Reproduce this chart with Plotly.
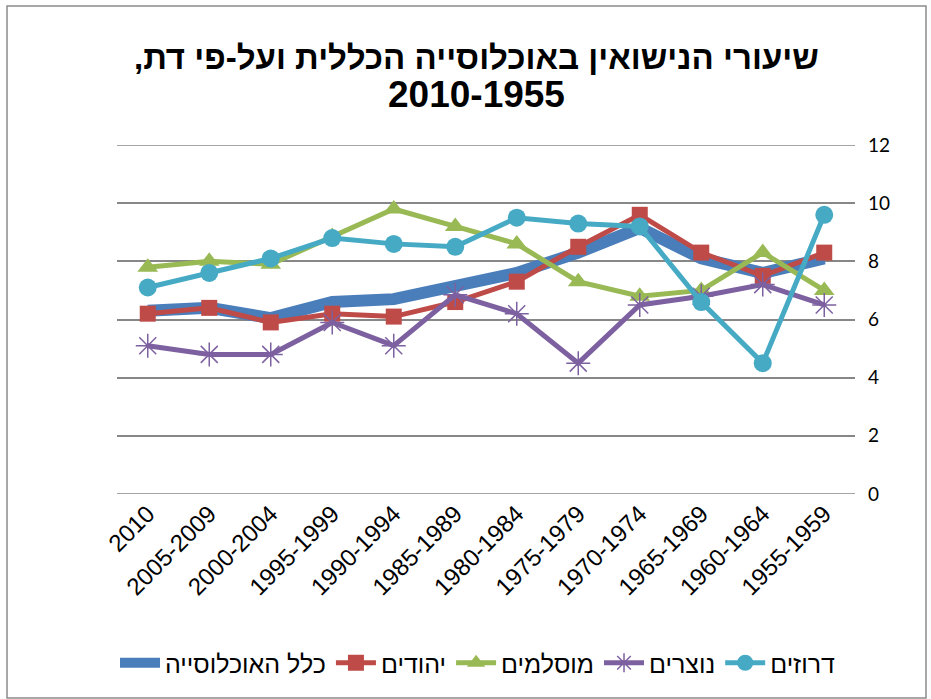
import plotly.graph_objects as go

# periods, in the order they appear on the axis (left to right)
periods = ["2010", "2005-2009", "2000-2004", "1995-1999", "1990-1994", "1985-1989",
           "1980-1984", "1975-1979", "1970-1974", "1965-1969", "1960-1964", "1955-1959"]

total = [6.3, 6.4, 6.05, 6.6, 6.7, 7.1, 7.6, 8.3, 9.15, 8.1, 7.6, 8.1]
jews = [6.2, 6.4, 5.9, 6.2, 6.1, 6.6, 7.3, 8.5, 9.6, 8.3, 7.5, 8.3]
muslims = [7.8, 8.0, 7.9, 8.85, 9.8, 9.2, 8.6, 7.3, 6.8, 7.0, 8.3, 7.0]
christians = [5.1, 4.8, 4.8, 5.9, 5.1, 6.85, 6.2, 4.5, 6.5, 6.8, 7.2, 6.5]
druze = [7.1, 7.6, 8.1, 8.8, 8.6, 8.5, 9.5, 9.3, 9.2, 6.6, 4.5, 9.6]

names = ["כלל האוכלוסייה", "יהודים", "מוסלמים", "נוצרים", "דרוזים"]
y_ticks = [0, 2, 4, 6, 8, 10, 12]
title_1 = "שיעורי הנישואין באוכלוסייה הכללית ועל-פי דת,\u200f"
title_2 = "2010-1955"

# plot area in pixels: x 117..855, y 145..494
L, R, T, B = 117, 855, 145, 494
W, H = R - L, B - T


def px_x(v):
    return (v - L) / W


def px_y(v):
    return (B - v) / H


fig = go.Figure()

fig.add_trace(go.Scatter(x=periods, y=total, name=names[0], mode="lines",
                         line=dict(color="#4A7EBB", width=12)))
fig.add_trace(go.Scatter(x=periods, y=jews, name=names[1], mode="lines+markers",
                         line=dict(color="#BE4B48", width=5),
                         marker=dict(symbol="square", size=16, color="#BE4B48")))
fig.add_trace(go.Scatter(x=periods, y=muslims, name=names[2], mode="lines+markers",
                         line=dict(color="#98B954", width=5),
                         marker=dict(symbol="triangle-up", size=18, color="#98B954")))
fig.add_trace(go.Scatter(x=periods, y=christians, name=names[3], mode="lines+markers",
                         line=dict(color="#7D60A0", width=5),
                         marker=dict(symbol="asterisk-open", size=20,
                                     line=dict(color="#7D60A0", width=1.5))))
fig.add_trace(go.Scatter(x=periods, y=druze, name=names[4], mode="lines+markers",
                         line=dict(color="#46AAC5", width=5),
                         marker=dict(symbol="circle", size=18, color="#46AAC5")))

fig.update_layout(
    width=931, height=699,
    margin=dict(l=L, r=931 - R, t=T, b=699 - B),
    paper_bgcolor="white", plot_bgcolor="white",
    font=dict(family="Liberation Sans, Arial", color="black"),
    xaxis=dict(type="category", range=[-0.5, 11.5], tickangle=-45,
               showgrid=False, zeroline=False, showline=False, automargin=False,
               tickfont=dict(family="Liberation Sans, Arial", size=24)),
    yaxis=dict(range=[0, 12], tickvals=y_ticks, side="right",
               showgrid=True, gridcolor="#878787", gridwidth=1.5,
               zeroline=False, showline=False, ticklabelstandoff=12, automargin=False,
               tickfont=dict(family="Lato, Open Sans", size=19)),
    legend=dict(orientation="h", x=px_x(478), xanchor="center", y=px_y(663),
                yanchor="middle", font=dict(size=25), itemwidth=40,
                tracegroupgap=0),
    showlegend=True,
)

# title as two lines with their own sizes
fig.add_annotation(text=title_1, x=px_x(476), y=px_y(57), xref="paper", yref="paper",
                   xanchor="center", yanchor="middle", showarrow=False,
                   font=dict(family="Liberation Sans, Arial", size=33, weight="bold"))
fig.add_annotation(text=title_2, x=px_x(476), y=px_y(94), xref="paper", yref="paper",
                   xanchor="center", yanchor="middle", showarrow=False,
                   font=dict(family="Liberation Sans, Arial", size=37, weight="bold"))

# gridlines at the axis ends
for v in (y_ticks[0], y_ticks[-1]):
    fig.add_shape(type="line", xref="paper", yref="y", x0=0, x1=1, y0=v, y1=v,
                  line=dict(color="#878787", width=1.5), layer="below")

# chart-area border
fig.add_shape(type="rect", xref="paper", yref="paper",
              x0=px_x(7), x1=px_x(926), y0=px_y(698), y1=px_y(6),
              line=dict(color="#8C8C8C", width=1.5), fillcolor="rgba(0,0,0,0)",
              layer="below")

fig.write_html("out.html", config={"displayModeBar": False},
               post_script="document.body.style.margin='0';")
